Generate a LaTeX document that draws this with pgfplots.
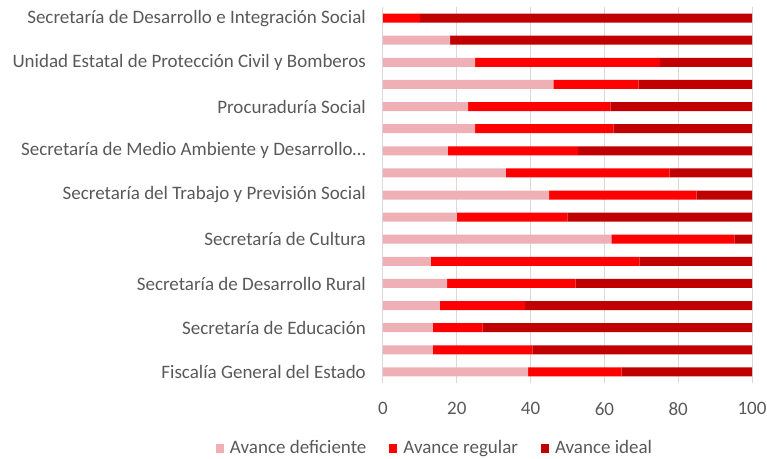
\documentclass[border=0pt]{standalone}
\usepackage{fontspec}
\setmainfont{Carlito}
\usepackage{pgfplots}
\usepackage{pgfplotstable}
\pgfplotsset{compat=1.18}

\definecolor{deficiente}{HTML}{EEB0B5}
\definecolor{regular}{HTML}{FF0000}
\definecolor{ideal}{HTML}{C00000}
\definecolor{txt}{HTML}{595959}
\definecolor{grd}{HTML}{D9D9D9}

% y = position from the bottom (0 = Fiscalía General del Estado)
\pgfplotstableread{
y  def   reg   ideal
0  39.3  25.4  35.3
1  13.5  27.0  59.5
2  13.5  13.5  73.0
3  15.4  23.1  61.5
4  17.4  34.8  47.8
5  13.0  56.5  30.5
6  61.9  33.3   4.8
7  20.0  30.0  50.0
8  45.0  40.0  15.0
9  33.3  44.4  22.3
10 17.6  35.3  47.1
11 25.0  37.5  37.5
12 23.1  38.5  38.4
13 46.2  23.1  30.7
14 25.0  50.0  25.0
15 18.2   0.0  81.8
16  0.0  10.0  90.0
}\datos

\begin{document}
\begin{tikzpicture}
\begin{axis}[
    xbar stacked,
    bar width=9pt,
    scale only axis,
    width=369pt, height=376pt,
    xmin=0, xmax=100,
    ymin=-0.5, ymax=16.5,
    axis line style={draw=none},
    major tick length=0pt,
    xtick={0,20,...,100},
    xmajorgrids,
    grid style={grd, line width=1pt},
    ytick={0,2,...,16},
    yticklabels={Fiscalía General del Estado,
                 Secretaría de Educación,
                 Secretaría de Desarrollo Rural,
                 Secretaría de Cultura,
                 Secretaría del Trabajo y Previsión Social,
                 Secretaría de Medio Ambiente y Desarrollo…,
                 Procuraduría Social,
                 Unidad Estatal de Protección Civil y Bomberos,
                 Secretaría de Desarrollo e Integración Social},
    /pgf/number format/assume math mode=true,
    tick label style={font=\fontsize{19}{22}\selectfont, text=txt},
    xticklabel style={anchor=north, inner sep=0pt, yshift=-19pt},
    yticklabel style={anchor=east, inner sep=0pt, xshift=-17pt},
    legend style={at={(axis description cs:0.141,-0.173)}, anchor=center,
        draw=none, legend columns=-1,
        font=\fontsize{19}{22}\selectfont, text=txt,
        /tikz/every odd column/.append style={column sep=4pt},
        /tikz/every even column/.append style={column sep=21pt}},
    legend image code/.code={\fill[#1] (0pt,-4.5pt) rectangle (8pt,4.5pt);},
]
\addplot[fill=deficiente, draw=none] table[x=def, y=y] {\datos};
\addplot[fill=regular, draw=none] table[x=reg, y=y] {\datos};
\addplot[fill=ideal, draw=none] table[x=ideal, y=y] {\datos};
\legend{Avance deficiente, Avance regular, Avance ideal}
\path (rel axis cs:0,0) coordinate (bl) (rel axis cs:1,1) coordinate (tr);
\end{axis}
\pgfresetboundingbox
\path[use as bounding box] ([xshift=-383pt,yshift=-75pt]bl) rectangle ([xshift=15pt,yshift=7pt]tr);
\end{tikzpicture}
\end{document}
